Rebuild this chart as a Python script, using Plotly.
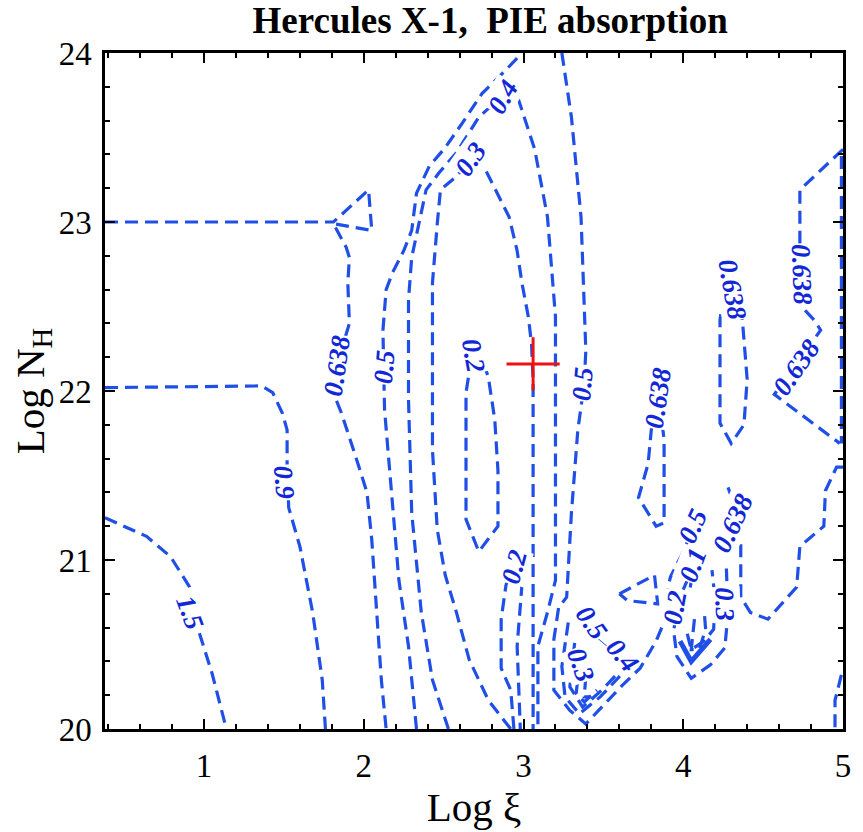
import plotly.graph_objects as go

# ---------------- data (data units) ----------------
title_text = "<b>Hercules X-1,&nbsp; PIE absorption</b>"
x_ticks = [1, 2, 3, 4, 5]
y_ticks = [20, 21, 22, 23, 24]
x_range = [0.38, 5.0]
y_range = [20.0, 24.0]

# best-fit point (red cross)
best_x = [3.06]
best_y = [22.16]

# contour polylines
c15_x = [0.38, 0.64, 0.79, 0.91, 0.97, 1.05, 1.14]
c15_y = [21.25, 21.14, 21.02, 20.84, 20.57, 20.33, 20.0]

c09_x = [0.38, 1.36, 1.43, 1.49, 1.52, 1.52, 1.53, 1.60, 1.68, 1.74, 1.76]
c09_y = [22.02, 22.03, 21.99, 21.87, 21.77, 21.57, 21.31, 21.08, 20.69, 20.29, 20.0]

c0638a_x = [0.38, 1.81, 2.03, 2.05, 1.81, 1.89, 1.91, 1.90, 1.91, 1.88, 1.83, 1.80, 1.86, 1.95,
            2.02, 2.05, 2.08, 2.11, 2.14]
c0638a_y = [23.0, 23.0, 23.19, 22.95, 22.99, 22.85, 22.79, 22.64, 22.40, 22.30, 22.15, 22.01,
            21.87, 21.61, 21.40, 21.12, 20.69, 20.29, 20.0]

c05a_x = [2.33, 2.28, 2.22, 2.17, 2.13, 2.12, 2.14, 2.18, 2.25, 2.30, 2.33, 2.41, 2.51, 2.62,
          2.74, 2.89, 2.99]
c05a_y = [20.0, 20.49, 20.88, 21.47, 21.89, 22.36, 22.60, 22.70, 22.83, 22.95, 23.17, 23.33,
          23.44, 23.59, 23.76, 23.90, 24.0]

c05b_x = [3.24, 3.30, 3.36, 3.39, 3.38, 3.34, 3.30, 3.27, 3.22, 3.19, 3.19, 3.29, 3.39, 3.50,
          3.62, 3.73, 3.83, 3.87, 3.88, 3.92, 3.99, 4.05]
c05b_y = [24.0, 23.62, 23.03, 22.24, 22.04, 21.77, 21.28, 20.78, 20.72, 20.53, 20.23, 20.11,
          20.03, 20.14, 20.26, 20.36, 20.52, 20.61, 20.74, 20.90, 21.03, 21.16]

c04_x = [2.53, 2.43, 2.36, 2.30, 2.28, 2.28, 2.30, 2.34, 2.39, 2.47, 2.58, 2.72, 2.86, 2.97,
         3.07, 3.15, 3.20, 3.20, 3.20, 3.15, 3.09, 3.09]
c04_y = [20.0, 20.29, 20.69, 21.28, 21.95, 22.54, 22.79, 22.97, 23.19, 23.29, 23.41, 23.62,
         23.74, 23.72, 23.43, 23.03, 22.44, 21.96, 20.88, 20.69, 20.49, 20.0]

c03_x = [2.92, 2.78, 2.66, 2.58, 2.51, 2.46, 2.43, 2.43, 2.43, 2.46, 2.48, 2.58, 2.67, 2.74,
         2.91, 2.96, 2.99, 3.03, 3.05, 3.06, 3.06, 3.06]
c03_y = [20.0, 20.17, 20.41, 20.69, 20.91, 21.18, 21.65, 21.95, 22.64, 22.99, 23.19, 23.27,
         23.37, 23.35, 23.03, 22.83, 22.64, 22.44, 22.28, 22.07, 20.76, 20.0]

c02a_x = [2.71, 2.78, 2.82, 2.84, 2.84, 2.72, 2.64, 2.64, 2.64, 2.67, 2.71]
c02a_y = [22.28, 22.08, 21.83, 21.53, 21.20, 21.05, 21.24, 21.65, 21.99, 22.17, 22.28]

c02b_x = [2.94, 2.92, 2.86, 2.86, 2.89, 2.94, 2.99, 2.96, 2.98]
c02b_y = [20.0, 20.23, 20.36, 20.65, 20.85, 21.01, 20.85, 20.49, 20.0]

# right-hand 0.638 pieces
r1_x = [4.31, 4.37, 4.40, 4.38, 4.30, 4.23, 4.23, 4.26, 4.31]
r1_y = [22.73, 22.42, 22.07, 21.80, 21.69, 21.81, 22.42, 22.63, 22.73]

r2_x = [3.84, 3.88, 3.88, 3.83, 3.72, 3.78, 3.80, 3.84]
r2_y = [22.04, 21.71, 21.22, 21.20, 21.37, 21.57, 21.77, 22.04]

r3_x = [5.0, 4.96, 4.89, 4.88, 4.73, 4.71, 4.53, 4.42, 4.36, 4.36, 4.33, 4.28]
r3_y = [21.55, 21.55, 21.41, 21.20, 21.08, 20.84, 20.65, 20.69, 20.78, 21.12, 21.30, 21.43]

r4_x = [5.0, 4.73, 4.73, 4.74, 4.76, 4.82, 4.86, 4.57, 4.98]
r4_y = [23.43, 23.19, 22.88, 22.69, 22.48, 22.42, 22.36, 21.98, 21.69]

r5_x = [4.99, 4.99]
r5_y = [23.39, 21.69]

r7_x = [4.99, 4.95, 4.95]
r7_y = [20.32, 20.17, 20.0]

tri_x = [3.60, 3.82, 3.84, 3.65, 3.60]
tri_y = [20.80, 20.91, 20.74, 20.76, 20.80]

# lower cluster near log xi ~ 3.4
k1_x = [3.28, 3.24, 3.26, 3.35, 3.48, 3.60, 3.71]
k1_y = [20.63, 20.37, 20.19, 20.09, 20.19, 20.31, 20.43]
k2_x = [3.32, 3.29, 3.37, 3.49, 3.59]
k2_y = [20.51, 20.25, 20.13, 20.23, 20.33]
k3_x = [3.35, 3.33, 3.38, 3.46]
k3_y = [20.40, 20.21, 20.16, 20.23]
k4_x = [3.39, 3.38, 3.42]
k4_y = [20.31, 20.19, 20.19]
kthin_x = [3.41, 3.66]
kthin_y = [20.58, 20.38]

# cluster near log xi ~ 4.1
q1_x = [4.09, 4.03, 3.97, 3.94, 3.96, 4.05, 4.17, 4.26, 4.28, 4.27]
q1_y = [21.00, 20.89, 20.76, 20.58, 20.43, 20.30, 20.38, 20.48, 20.68, 20.95]
q2_x = [4.11, 4.06, 4.03, 4.01, 4.05, 4.13, 4.19, 4.20, 4.18]
q2_y = [21.02, 20.93, 20.76, 20.62, 20.47, 20.52, 20.59, 20.76, 20.94]
q3_x = [4.07, 4.05, 4.10, 4.14, 4.13]
q3_y = [20.65, 20.47, 20.47, 20.59, 20.71]
qh_x = [3.98, 4.05, 4.17]
qh_y = [20.52, 20.40, 20.53]

# contour labels: text, x, y, angle
lab_text = ["1.5", "0.9", "0.638", "0.5", "0.3", "0.4", "0.2", "0.5", "0.2",
            "0.638", "0.638", "0.638", "0.638",
            "0.5", "0.3", "0.4",
            "0.5", "0.638", "0.1", "0.2", "0.3"]
lab_x = [0.91, 1.50, 1.83, 2.13, 2.67, 2.87, 2.69, 3.37, 2.94,
         3.84, 4.31, 4.74, 4.71,
         3.43, 3.36, 3.62,
         4.06, 4.31, 4.06, 3.95, 4.26]
lab_y = [20.69, 21.46, 22.15, 22.14, 23.37, 23.74, 22.21, 22.04, 20.96,
         21.96, 22.60, 22.69, 22.14,
         20.63, 20.38, 20.44,
         21.20, 21.22, 20.97, 20.72, 20.74]
lab_angle = [70, 85, -82, -85, -55, -60, 80, -85, -75,
             -82, 80, 88, -55,
             55, 70, 50,
             -65, -65, -70, -80, 88]

# ---------------- figure ----------------
LINE = "#1f4fe6"
TEXT = "#1228d6"
dash = "13px,7px"

fig = go.Figure()

dashed = [(c15_x, c15_y), (c09_x, c09_y), (c0638a_x, c0638a_y), (c05a_x, c05a_y),
          (c05b_x, c05b_y), (c04_x, c04_y), (c03_x, c03_y), (c02a_x, c02a_y),
          (c02b_x, c02b_y), (r1_x, r1_y), (r2_x, r2_y), (r3_x, r3_y), (r4_x, r4_y),
          (r5_x, r5_y), (r7_x, r7_y), (tri_x, tri_y),
          (k1_x, k1_y), (k2_x, k2_y), (k3_x, k3_y), (k4_x, k4_y),
          (q1_x, q1_y), (q2_x, q2_y), (q3_x, q3_y)]
for xs, ys in dashed:
    fig.add_trace(go.Scatter(x=xs, y=ys, mode="lines", hoverinfo="skip",
                             line=dict(color=LINE, width=3.2, dash=dash)))

fig.add_trace(go.Scatter(x=kthin_x, y=kthin_y, mode="lines", hoverinfo="skip",
                         line=dict(color=LINE, width=1)))
fig.add_trace(go.Scatter(x=qh_x, y=qh_y, mode="lines", hoverinfo="skip",
                         line=dict(color=LINE, width=5)))

fig.add_trace(go.Scatter(x=best_x, y=best_y, mode="markers", hoverinfo="skip",
                         marker=dict(symbol="cross-thin", size=38,
                                     line=dict(color="#ee1111", width=3))))

for t, x, y, a in zip(lab_text, lab_x, lab_y, lab_angle):
    fig.add_annotation(x=x, y=y, text="<b><i>" + t + "</i></b>", showarrow=False,
                       textangle=a, bgcolor="white", borderpad=0,
                       font=dict(family="Liberation Serif", size=27, color=TEXT))

axis_common = dict(showgrid=False, zeroline=False, showline=True, linecolor="black",
                   linewidth=2.5, mirror="allticks", ticks="inside", ticklen=10,
                   tickwidth=1.5, tickcolor="black",
                   tickfont=dict(family="Liberation Serif", size=33, color="black"))

fig.update_layout(
    width=863, height=832,
    margin=dict(l=105, r=17, t=53, b=103),
    paper_bgcolor="white", plot_bgcolor="white",
    showlegend=False,
    title=dict(text=title_text, x=0.568, xanchor="center", y=0.976, yanchor="middle",
               font=dict(family="Liberation Serif", size=37, color="black")),
    xaxis=dict(range=x_range, tickvals=x_ticks, ticklabelstandoff=6,
               minor=dict(ticks="inside", ticklen=5, dtick=0.2, tick0=0, tickcolor="black"),
               title=dict(text="Log ξ", standoff=4,
                          font=dict(family="Liberation Serif", size=41, color="black")),
               **axis_common),
    yaxis=dict(range=y_range, tickvals=y_ticks, ticklabelstandoff=4,
               minor=dict(ticks="inside", ticklen=5, dtick=0.2, tick0=0, tickcolor="black"),
               title=dict(text="Log N<sub>H</sub>", standoff=2,
                          font=dict(family="Liberation Serif", size=41, color="black")),
               **axis_common),
)

fig.write_html("out.html")
